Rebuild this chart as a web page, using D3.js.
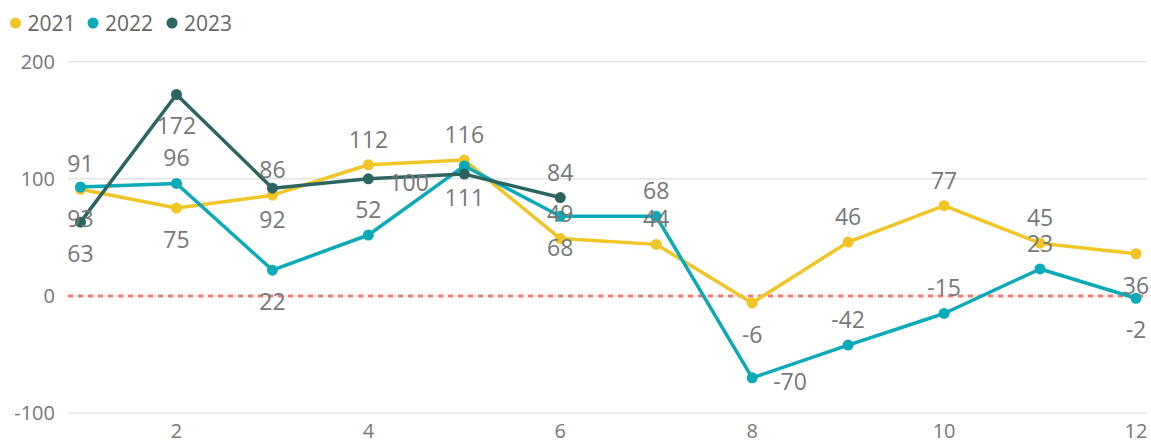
<!DOCTYPE html>
<html>
<head>
<meta charset="utf-8">
<script src="https://cdn.jsdelivr.net/npm/d3@7"></script>
<style>
  body { margin: 0; background: #fff; }
  svg text { font-family: 'Open Sans', sans-serif; }
</style>
</head>
<body>
<svg id="chart" width="1151" height="441"></svg>
<script>
const months = [1, 2, 3, 4, 5, 6, 7, 8, 9, 10, 11, 12]
const years = ['2021', '2022', '2023']
const v2021 = [91, 75, 86, 112, 116, 49, 44, -6, 46, 77, 45, 36]
const v2022 = [93, 96, 22, 52, 111, 68, 68, -70, -42, -15, 23, -2]
const v2023 = [63, 172, 92, 100, 104, 84]
const yTicks = [-100, 0, 100, 200]
const xTicks = [2, 4, 6, 8, 10, 12]
const refValue = 0

// where the data label sits: a = above, b = below, r = right, '' = hidden
const pos2021 = ['a', 'b', 'a', 'a', 'a', 'a', 'a', 'b', 'a', 'a', 'a', 'b']
const pos2022 = ['b', 'a', 'b', 'a', 'b', 'b', 'a', 'r', 'a', 'a', 'a', 'b']
const pos2023 = ['b', 'b', 'b', 'r', '', 'a']

const colors = ['#F2C526', '#0AAAB9', '#2C6560']
const series = [v2021, v2022, v2023].map((vals, i) => ({
  name: years[i],
  color: colors[i],
  points: vals.map((v, j) => ({ m: months[j], v: v, p: [pos2021, pos2022, pos2023][i][j] }))
}))

let svg = d3.select('#chart')
let x = d3.scaleLinear().domain([1, 12]).range([80.5, 1136])
let y = d3.scaleLinear().domain([-100, 200]).range([413, 61.7])

// gridlines
svg.append('g').selectAll('line')
  .data(yTicks)
  .enter().append('line')
  .attr('x1', 68).attr('x2', 1146)
  .attr('y1', d => y(d)).attr('y2', d => y(d))
  .attr('stroke', '#e4e4e4')
  .attr('stroke-width', 1.5)

// y axis labels
svg.append('g').selectAll('text')
  .data(yTicks)
  .enter().append('text')
  .attr('x', 55)
  .attr('y', d => y(d) + 7)
  .attr('text-anchor', 'end')
  .attr('font-size', '20px')
  .attr('fill', '#777')
  .text(d => d)

// x axis labels
svg.append('g').selectAll('text')
  .data(xTicks)
  .enter().append('text')
  .attr('x', d => x(d))
  .attr('y', 438)
  .attr('text-anchor', 'middle')
  .attr('font-size', '20px')
  .attr('fill', '#777')
  .text(d => d)

// reference line at 0
svg.append('line')
  .attr('x1', 68).attr('x2', 1146)
  .attr('y1', y(refValue)).attr('y2', y(refValue))
  .attr('stroke', '#F47A72')
  .attr('stroke-width', 3)
  .attr('stroke-dasharray', '5,5')

let line = d3.line()
  .x(d => x(d.m))
  .y(d => y(d.v))

let lines = svg.append('g')
series.forEach(s => {
  lines.append('path')
    .datum(s.points)
    .attr('d', line)
    .attr('fill', 'none')
    .attr('stroke', s.color)
    .attr('stroke-width', 3.5)
    .attr('stroke-linejoin', 'round')
  lines.append('g').selectAll('circle')
    .data(s.points)
    .enter().append('circle')
    .attr('cx', d => x(d.m))
    .attr('cy', d => y(d.v))
    .attr('r', 5.5)
    .attr('fill', s.color)
})

// data labels
let labels = svg.append('g')
series.forEach(s => {
  labels.selectAll(null)
    .data(s.points.filter(d => d.p !== ''))
    .enter().append('text')
    .attr('x', d => d.p === 'r' ? x(d.m) + 21 : x(d.m))
    .attr('y', d => {
      if (d.p === 'a') return y(d.v) - 17
      if (d.p === 'b') return y(d.v) + 40
      return y(d.v) + 12
    })
    .attr('text-anchor', d => d.p === 'r' ? 'start' : 'middle')
    .attr('font-size', '23px')
    .attr('fill', '#777')
    .text(d => d.v)
})

// legend
let legendX = [15.5, 93, 172]
let legend = svg.append('g')
series.forEach((s, i) => {
  legend.append('circle')
    .attr('cx', legendX[i]).attr('cy', 23)
    .attr('r', 5.5)
    .attr('fill', s.color)
  legend.append('text')
    .attr('x', legendX[i] + 12)
    .attr('y', 30.5)
    .attr('font-size', '21px')
    .attr('fill', '#666')
    .text(s.name)
})
</script>
</body>
</html>
